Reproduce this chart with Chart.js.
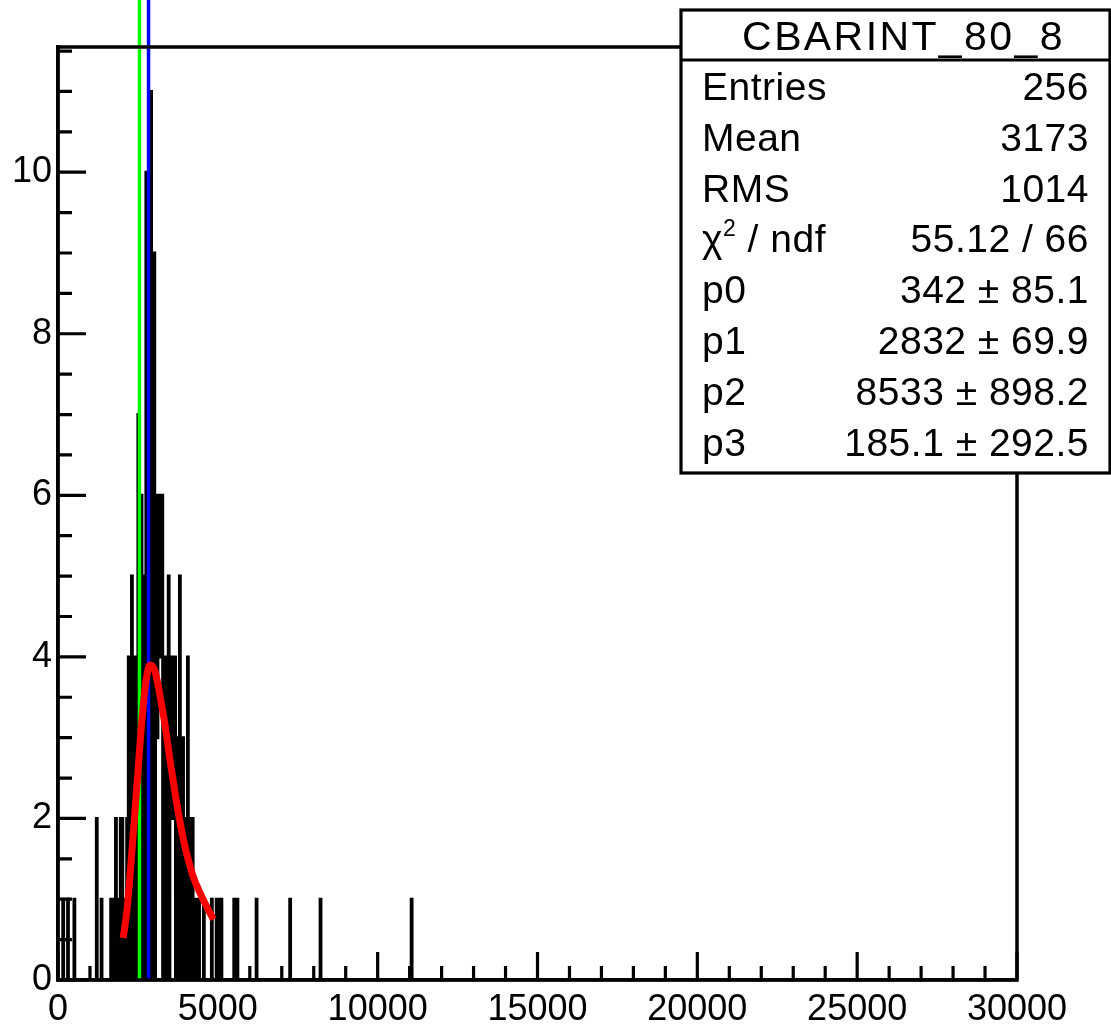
<!DOCTYPE html>
<html>
<head>
<meta charset="utf-8">
<script src="https://cdn.jsdelivr.net/npm/chart.js@4.4.1/dist/chart.umd.min.js"></script>
<style>
  html, body { margin: 0; padding: 0; background: #ffffff; }
</style>
</head>
<body>
<canvas id="canva" width="1111" height="1026"></canvas>
<script>
// Datos del histograma (bins de 25, rango 0 - 30000)
const binWidth = 25;
const xMin = 0;
const xMax = 30000;
const yMax = 11.55;

// solo los bins con contenido (borde inferior del bin y cuentas)
const binLow = [150, 300, 500, 1200, 1350, 1650, 1750,
  1800, 1850, 1950, 2000, 2050, 2100, 2150,
  2200, 2250, 2300, 2350, 2400, 2450,
  2500, 2550, 2600, 2650, 2700, 2750, 2800, 2850, 2900, 2950, 3000,
  3050, 3075, 3100, 3125, 3150, 3175, 3200, 3225, 3250,
  3300, 3350, 3400, 3450, 3500, 3525, 3550, 3575, 3600, 3625, 3650,
  3700, 3750, 3800, 3850, 3900, 3950, 4000, 4050, 4100, 4150, 4200, 4250,
  4350, 4400, 4550, 4800, 4950, 5050, 5100, 5500, 5600, 6200, 7250, 8200, 11050];
const binCount = [1, 1, 1, 2, 1, 1, 1,
  2, 1, 2, 2, 1, 1, 2,
  4, 2, 5, 3, 4, 2,
  7, 3, 6, 4, 5, 10, 8, 9, 11, 7, 9,
  6, 4, 3, 5, 6, 4, 4, 5, 6,
  2, 4, 4, 5, 3, 2, 4, 3, 2, 2, 4,
  3, 1, 5, 3, 3, 1, 2, 4, 2, 1, 2, 1,
  1, 1, 1, 1, 1, 1, 1, 1, 1, 1, 1, 1, 1];

// curva del ajuste
const fitX = [2040, 2170, 2300, 2460, 2620, 2750, 2880, 3030, 3190, 3350,
  3500, 3660, 3820, 4020, 4230, 4440, 4650, 4860];
const fitY = [0.52, 0.91, 1.53, 2.36, 3.19, 3.69, 3.90, 3.83, 3.52, 3.15,
  2.73, 2.32, 1.95, 1.57, 1.28, 1.08, 0.91, 0.75];

// lineas verticales
const markerX = [2549, 2832];
const markerColor = ["#00ff00", "#0000ff"];

// caja de estadisticas
const statsTitle = "CBARINT_80_8";
const statsLabels = ["Entries", "Mean", "RMS", "χ2 / ndf", "p0", "p1", "p2", "p3"];
const statsValues = ["256", "3173", "1014", "55.12 / 66", "342 ± 85.1",
  "2832 ± 69.9", "8533 ± 898.2", "185.1 ± 292.5"];

const fuente = '"Liberation Sans", Arial, Helvetica, sans-serif';

// arma los puntos del contorno escalonado
function puntosHistograma() {
  const nBins = Math.round((xMax - xMin) / binWidth);
  const cuentas = new Array(nBins).fill(0);
  binLow.forEach((x, i) => {
    cuentas[Math.round((x - xMin) / binWidth)] = binCount[i];
  });
  const pts = [{ x: xMin, y: 0 }];
  cuentas.forEach((c, k) => {
    pts.push({ x: xMin + k * binWidth, y: c });
  });
  pts.push({ x: xMax, y: cuentas[nBins - 1] });
  pts.push({ x: xMax, y: 0 });
  return pts;
}

const puntosAjuste = fitX.map((x, i) => ({ x: x, y: fitY[i] }));

// lineas verdes/azules encima del histograma
const lineasPlugin = {
  id: "lineas",
  afterDatasetDraw(chart, args) {
    if (args.index !== 0) return;
    const ctx = chart.ctx;
    const xs = chart.scales.x;
    ctx.save();
    ctx.lineWidth = 3.5;
    markerX.forEach((v, i) => {
      const px = xs.getPixelForValue(v);
      ctx.strokeStyle = markerColor[i];
      ctx.beginPath();
      ctx.moveTo(px, chart.chartArea.bottom);
      ctx.lineTo(px, 0);
      ctx.stroke();
    });
    ctx.restore();
  }
};

// marco, ticks hacia adentro y caja de estadisticas
const marcoPlugin = {
  id: "marco",
  afterDraw(chart) {
    const ctx = chart.ctx;
    const a = chart.chartArea;
    const xs = chart.scales.x;
    const ys = chart.scales.y;
    ctx.save();
    ctx.strokeStyle = "#000";
    ctx.lineWidth = 3.5;
    ctx.strokeRect(a.left, a.top, a.right - a.left, a.bottom - a.top);

    ctx.lineWidth = 3.2;
    ctx.beginPath();
    for (let v = 0; v <= yMax; v += 0.5) {
      const py = ys.getPixelForValue(v);
      const largo = (v % 2 === 0) ? 28 : 14;
      ctx.moveTo(a.left, py);
      ctx.lineTo(a.left + largo, py);
    }
    for (let v = xMin; v <= xMax; v += 1000) {
      const px = xs.getPixelForValue(v);
      const largo = (v % 5000 === 0) ? 28 : 14;
      ctx.moveTo(px, a.bottom);
      ctx.lineTo(px, a.bottom - largo);
    }
    ctx.stroke();

    // caja
    const bx = 681, by = 10, bw = 429, bh = 463;
    ctx.fillStyle = "#fff";
    ctx.fillRect(bx, by, bw, bh);
    ctx.lineWidth = 3.2;
    ctx.strokeRect(bx, by, bw, bh);
    ctx.beginPath();
    ctx.moveTo(bx, 60);
    ctx.lineTo(bx + bw, 60);
    ctx.stroke();

    ctx.fillStyle = "#000";
    ctx.font = "41px " + fuente;
    ctx.letterSpacing = "2.4px";
    ctx.textAlign = "center";
    ctx.textBaseline = "alphabetic";
    ctx.fillText(statsTitle, bx + bw / 2 + 8, 50);

    ctx.letterSpacing = "0.5px";
    statsLabels.forEach((lab, i) => {
      const base = 100 + i * 50.8;
      ctx.textAlign = "left";
      if (lab.startsWith("χ")) {
        ctx.font = "39px " + fuente;
        ctx.fillText("χ", 702, base);
        const w = ctx.measureText("χ").width;
        ctx.font = "23px " + fuente;
        ctx.fillText("2", 702 + w, base - 16);
        const w2 = ctx.measureText("2").width;
        ctx.font = "39px " + fuente;
        ctx.fillText(" / ndf", 702 + w + w2, base);
      } else {
        ctx.font = "39px " + fuente;
        ctx.fillText(lab, 702, base);
      }
      ctx.textAlign = "right";
      ctx.font = "39px " + fuente;
      ctx.fillText(statsValues[i], 1089, base);
    });
    ctx.restore();
  }
};

const grafico = new Chart(document.getElementById("canva").getContext("2d"), {
  type: "line",
  data: {
    datasets: [
      {
        label: "CBARINT_80_8",
        data: puntosHistograma(),
        stepped: "before",
        borderColor: "#000000",
        borderWidth: 3,
        pointRadius: 0,
        fill: false,
        order: 2
      },
      {
        label: "ajuste",
        data: puntosAjuste,
        borderColor: "#ff0000",
        borderWidth: 7,
        pointRadius: 0,
        tension: 0.4,
        cubicInterpolationMode: "monotone",
        fill: false,
        order: 1
      }
    ]
  },
  options: {
    responsive: false,
    animation: false,
    devicePixelRatio: 1,
    layout: { padding: { top: 47, right: 94, left: 0, bottom: 0 } },
    plugins: {
      legend: { display: false },
      tooltip: { enabled: false }
    },
    scales: {
      x: {
        type: "linear",
        min: xMin,
        max: xMax,
        afterFit: (s) => { s.height = 46; },
        grid: { display: false, drawTicks: false },
        border: { display: true, color: "#000", width: 3.5 },
        ticks: {
          stepSize: 5000,
          includeBounds: false,
          maxRotation: 0,
          autoSkip: false,
          padding: 8,
          color: "#000",
          font: { family: fuente, size: 36 },
          callback: (v) => String(v)
        }
      },
      y: {
        type: "linear",
        min: 0,
        max: yMax,
        afterFit: (s) => { s.width = 58; },
        grid: { display: false, drawTicks: false },
        border: { display: true, color: "#000", width: 3.5 },
        ticks: {
          stepSize: 2,
          includeBounds: false,
          padding: 6,
          color: "#000",
          font: { family: fuente, size: 36 },
          callback: (v) => String(v)
        }
      }
    }
  },
  plugins: [lineasPlugin, marcoPlugin]
});
</script>
</body>
</html>
